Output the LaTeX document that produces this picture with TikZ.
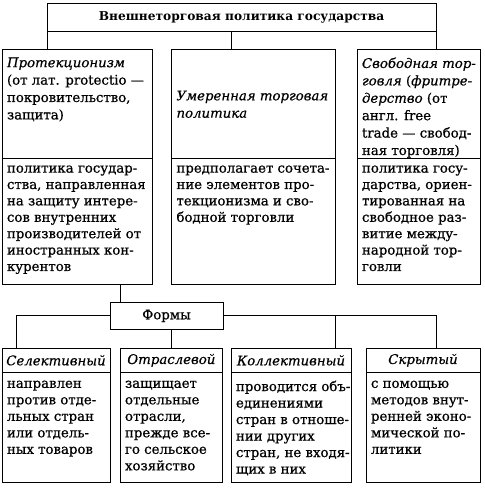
\documentclass[tikz,border=0pt]{standalone}
\usepackage{fontspec}
\setmainfont{DejaVu Serif}[UprightFeatures={FakeBold=0.7},ItalicFeatures={FakeBold=0.5},BoldFeatures={FakeBold=0}]
\usetikzlibrary{calc}
\tikzset{
  box/.style={draw, line width=0.9pt, inner sep=0pt, outer sep=0pt, rectangle, anchor=north west},
  txt/.style={inner sep=0pt, outer sep=0pt, align=left, anchor=north west, font=\fontsize{13.3}{16.4}\selectfont},
  htxt/.style={txt, font=\fontsize{13.3}{17.4}\selectfont},
  ctxt/.style={inner sep=0pt, outer sep=0pt, align=center, font=\fontsize{13.3}{16.6}\selectfont},
  conn/.style={draw, line width=0.9pt},
}
\begin{document}
\begin{tikzpicture}[x=1pt,y=-1pt]
\useasboundingbox[fill=white] (0,0) rectangle (484,489);
% title
\node[box, minimum width=389pt, minimum height=28pt] (title) at (47,3) {};
\node[ctxt, font=\fontsize{12.2}{14}\selectfont\bfseries] (titletxt) at (title.center) {Внешнеторговая политика государства};
% top column boxes
\node[box, minimum width=150.7pt, minimum height=109.5pt] (ah) at (2,49) {};
\node[box, minimum width=150.7pt, minimum height=125.5pt] (ab) at (2,158.5) {};
\node[box, minimum width=163.5pt, minimum height=109.5pt] (bh) at (171.5,49) {};
\node[box, minimum width=163.5pt, minimum height=125.5pt] (bb) at (171.5,158.5) {};
\node[box, minimum width=123pt, minimum height=109.5pt] (ch) at (357,49) {};
\node[box, minimum width=123pt, minimum height=125.5pt] (cb) at (357,158.5) {};
% top texts
\node[htxt] (aht) at ($(ah.north west)+(5,8.5)$) {\textit{Протекционизм}\\(от лат. protectio —\\покровительство,\\защита)};
\node[htxt, anchor=west] (bht) at ($(bh.west)+(5,0.5)$) {\textit{Умеренная торговая}\\\textit{политика}};
\node[htxt] (cht) at ($(ch.north west)+(5,8.5)$) {\textit{Свободная тор-}\\\textit{говля} (\textit{фритре-}\\\textit{дерство} (от\\англ. free\\trade — свобод-\\ная торговля)};
\node[txt] (abt) at ($(ab.north west)+(5,7)$) {политика государ-\\ства, направленная\\на защиту интере-\\сов внутренних\\производителей от\\иностранных кон-\\курентов};
\node[txt] (bbt) at ($(bb.north west)+(5,7)$) {предполагает сочета-\\ние элементов про-\\текционизма и сво-\\бодной торговли};
\node[txt] (cbt) at ($(cb.north west)+(5,7)$) {политика госу-\\дарства, ориен-\\тированная на\\свободное раз-\\витие между-\\народной тор-\\говли};
% forms
\node[box, minimum width=113pt, minimum height=27pt] (formy) at (110,302.3) {};
\node[ctxt] (formyt) at (formy.center) {Формы};
% bottom boxes
\node[box, minimum width=108pt, minimum height=24.7pt] (h1) at (2,348) {};
\node[box, minimum width=108pt, minimum height=109.8pt] (b1) at (2,372.7) {};
\node[box, minimum width=102.7pt, minimum height=24.7pt] (h2) at (120,348) {};
\node[box, minimum width=102.7pt, minimum height=109.8pt] (b2) at (120,372.7) {};
\node[box, minimum width=120pt, minimum height=24.7pt] (h3) at (231,348) {};
\node[box, minimum width=120pt, minimum height=109.8pt] (b3) at (231,372.7) {};
\node[box, minimum width=114pt, minimum height=24.7pt] (h4) at (366,348) {};
\node[box, minimum width=114pt, minimum height=109.8pt] (b4) at (366,372.7) {};
\node[ctxt] (h1t) at (h1.center) {\textit{Селективный}};
\node[ctxt] (h2t) at (h2.center) {\textit{Отраслевой}};
\node[ctxt] (h3t) at (h3.center) {\textit{Коллективный}};
\node[ctxt] (h4t) at (h4.center) {\textit{Скрытый}};
\node[txt, font=\fontsize{13.3}{16.5}\selectfont] (b1t) at ($(b1.north west)+(5,8)$) {направлен\\против отде-\\льных стран\\или отдель-\\ных товаров};
\node[txt, font=\fontsize{13.3}{16.5}\selectfont] (b2t) at ($(b2.north west)+(5,8)$) {защищает\\отдельные\\отрасли,\\прежде все-\\го сельское\\хозяйство};
\node[txt, font=\fontsize{13.3}{16.5}\selectfont] (b3t) at ($(b3.north west)+(5,8)$) {проводится объ-\\единениями\\стран в отноше-\\нии других\\стран, не входя-\\щих в них};
\node[txt, font=\fontsize{13.3}{16.5}\selectfont] (b4t) at ($(b4.north west)+(5,8)$) {с помощью\\методов внут-\\ренней эконо-\\мической по-\\литики};
% connectors
\coordinate (m1) at (231,0);
\coordinate (m2) at (120.7,0);
\coordinate (m3) at (16.7,0);
\coordinate (m4) at (335,0);
\coordinate (m5) at (436.5,0);
\draw[conn] (title.south west) -- (title.south west |- ah.north);
\draw[conn] (m1 |- title.south) -- (m1 |- bh.north);
\draw[conn] (title.south east) -- (title.south east |- ch.north);
\draw[conn] (m2 |- ab.south) -- (m2 |- formy.north);
\draw[conn] (formy.west) -| (m3 |- h1.north);
\draw[conn] (h2.north |- formy.south) -- (h2.north);
\draw[conn] (formy.east) -| (m5 |- h4.north);
\draw[conn] (m4 |- formy.east) -- (m4 |- h3.north);
\end{tikzpicture}
\end{document}
